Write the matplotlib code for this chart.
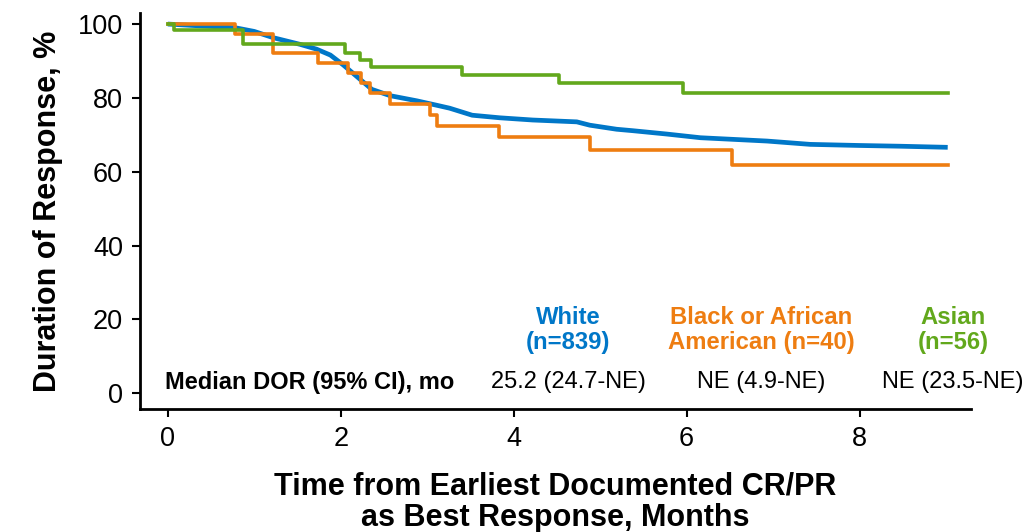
import numpy as np
import matplotlib.pyplot as plt

plt.rcParams['font.family'] = ['Liberation Sans', 'DejaVu Sans']

# White (n=839)
white_t = [0, 0.3, 0.78, 1.0, 1.22, 1.53, 1.72, 1.88, 2.03, 2.19, 2.36, 2.57, 2.88, 3.11, 3.26,
           3.52, 3.84, 4.22, 4.73, 4.88, 5.19, 5.38, 5.77, 6.16, 6.93, 7.43, 8.0, 8.47, 9.02]
white_s = [100, 99.6, 99.0, 98.0, 96.3, 94.5, 93.2, 91.6, 88.9, 85.7, 82.3, 80.6, 79.2, 78.0, 77.2,
           75.3, 74.6, 74.0, 73.5, 72.6, 71.5, 71.1, 70.2, 69.2, 68.3, 67.4, 67.1, 66.9, 66.6]

# Black or African American (n=40)
black_t = [0, 0.78, 1.22, 1.74, 2.08, 2.24, 2.34, 2.57, 3.03, 3.11, 3.83, 4.88, 6.52, 9.02]
black_s = [100, 97.4, 92.1, 89.4, 86.8, 84.0, 81.2, 78.3, 75.3, 72.4, 69.3, 65.9, 61.8, 61.8]

# Asian (n=56)
asian_t = [0, 0.07, 0.87, 2.05, 2.22, 2.35, 3.40, 4.52, 5.96, 9.02]
asian_s = [100, 98.4, 94.5, 92.2, 90.2, 88.3, 86.2, 83.9, 81.4, 81.4]

blue = '#0077C8'
orange = '#EE7D11'
green = '#62A81C'

fig = plt.figure(figsize=(10.28, 5.32), dpi=100)
ax = fig.add_axes([0.136, 0.2312, 0.8086, 0.7444])

ax.plot(white_t, white_s, color=blue, lw=3.4, zorder=2, solid_capstyle='butt')
ax.plot(black_t, black_s, color=orange, lw=2.6, drawstyle='steps-post', zorder=3)
ax.plot(asian_t, asian_s, color=green, lw=2.6, drawstyle='steps-post', zorder=4)

ax.set_xlim(-0.324, 9.29)
ax.set_ylim(-4.3, 103)
ax.set_xticks([0, 2, 4, 6, 8])
ax.set_yticks([0, 20, 40, 60, 80, 100])
ax.tick_params(labelsize=19.5, length=6, width=1.5, direction='out', pad=6)
for s in ['top', 'right']:
    ax.spines[s].set_visible(False)
for s in ['left', 'bottom']:
    ax.spines[s].set_linewidth(2)

ax.set_ylabel('Duration of Response, %', fontsize=22, fontweight='bold', labelpad=11)
ax.set_xlabel('Time from Earliest Documented CR/PR\nas Best Response, Months',
              fontsize=22, fontweight='bold', labelpad=14, linespacing=1.08)

groups = ['White\n(n=839)', 'Black or African\nAmerican (n=40)', 'Asian\n(n=56)']
medians = ['25.2 (24.7-NE)', 'NE (4.9-NE)', 'NE (23.5-NE)']
cols = [blue, orange, green]
xpos = [4.63, 6.86, 9.08]
for g, m, c, x in zip(groups, medians, cols, xpos):
    ax.text(x, 17.1, g, color=c, fontsize=17.2, fontweight='bold', ha='center', va='center',
            linespacing=1.15)
    ax.text(x, 3.0, m, color='black', fontsize=17, ha='center', va='center')
ax.text(-0.03, 3.0, 'Median DOR (95% CI), mo', fontsize=17, fontweight='bold',
        ha='left', va='center')

fig.savefig('out.png', dpi=100)
